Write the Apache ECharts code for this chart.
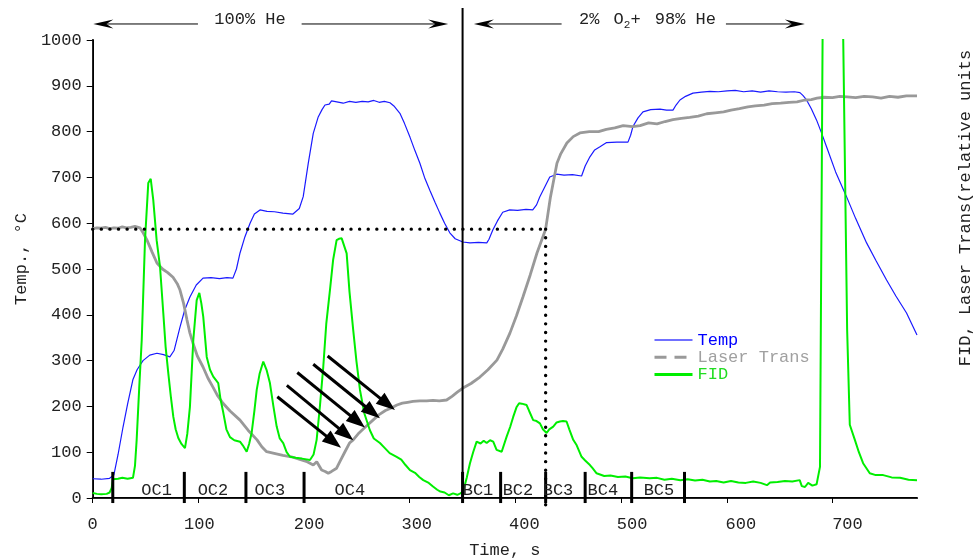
<!DOCTYPE html>
<html><head><meta charset="utf-8">
<script src="https://cdn.jsdelivr.net/npm/echarts/dist/echarts.min.js"></script>
<style>html,body{margin:0;padding:0;background:#fff}#c{width:973px;height:560px}</style>
</head><body><div id="c"></div>
<script>
// ---------- data (time in s, values in axis units) ----------
const xTickValues = [0,100,200,300,400,500,600,700];
const xLabelShift = [0,1,5,7,9,11,14,15];
const tempData = [[0,42],[8,41],[16,43],[20,50],[24,95],[28.7,155],[33,205],[38,258],[42,280],[47.6,300],[54,312],[60.8,316],[67,313],[73,308],[77,322],[82.6,373],[87,410],[92,439],[98,465],[104.4,480],[112,481],[120,479],[127,481],[132.7,480],[136,500],[139.4,535],[144,570],[148.9,600],[153,620],[158.3,629],[165,626],[172,625],[180,622],[189.5,620],[195.5,632],[199.2,658],[204,731],[208.7,796],[213.4,832],[217,848],[219.8,858],[223.8,860],[226,867],[231,865],[237,862],[243,866],[249,864],[255,866],[260.7,865],[266,868],[271,864],[276,866],[281.3,863],[285,856],[290.7,840],[295,818],[300.2,788],[305,758],[309.6,731],[314,700],[319,672],[324,645],[328.5,622],[333,600],[337.9,579],[343,566],[350.2,559],[357,557],[365,558],[372.9,557],[375,565],[378.6,585],[383,605],[388,624],[394.6,629],[402,628],[410,630],[416.4,629],[420,640],[423,657],[428,680],[432.5,701],[439.1,707],[446,705],[454,706],[462.6,703],[466,725],[470.5,745],[475,760],[480,767],[486.3,776],[496,777],[506.5,777],[509,792],[511.2,811],[516,830],[520.7,843],[528,848],[536.8,849],[543,847],[549.1,847],[552,858],[555.7,869],[561,877],[568,884],[576,886],[584,888],[592,887],[600.3,889],[608,890],[616,887],[624,889],[632,886],[640,889],[648,887],[656,886],[664,887],[669.2,885],[672,879],[675.5,869],[680,850],[685,825],[690,795],[694.4,767],[703,712],[713.3,658],[722,610],[732.3,557],[741,519],[751.2,476],[760,441],[770.1,404],[780,356]];
const laserData = [[0,588],[4,590],[8,589],[12,591],[16,588],[20,590],[24,589],[28,592],[32,590],[36,591],[40,593],[44.7,590],[48,578],[51.4,563],[56,538],[60.8,513],[66,500],[71,492],[76,482],[80,468],[82.6,454],[86,425],[89.2,389],[92,360],[94.9,338],[99,310],[104.4,286],[109,262],[113.8,242],[118,224],[123.3,207],[130,190],[139.4,170],[147,148],[155.5,127],[160,112],[164.6,101],[170.7,98],[180,93],[188,90],[196,84],[202,80],[208.7,72],[212,79],[216.6,61],[220,58],[222.9,54],[226,58],[230.8,65],[234,80],[238.7,101],[243,120],[246.5,127],[252,142],[258,155],[265.2,170],[271,182],[277,191],[282,196],[287.9,203],[293,207],[298,209],[303,211],[309.6,212],[316,212],[322,213],[328,212],[334.9,214],[340,222],[345,231],[350.3,240],[358,250],[366.4,264],[374,280],[382.5,301],[388,325],[394.8,360],[401,398],[407.1,439],[414,487],[420.4,535],[428.6,587],[433,655],[439.3,731],[443,752],[448.7,775],[454.7,789],[461,797],[470,800],[478.7,800],[486,805],[494,808],[502,813],[510.9,811],[518,813],[526,819],[534,817],[541.7,822],[549,826],[557,829],[565,831],[573,834],[581,839],[589,841],[597,843],[604,847],[612,850],[620,854],[627,856],[635.3,858],[643,861],[651,862],[659,864],[666.5,865],[674,869],[680,870],[685.4,873],[692,875],[700,874],[707,877],[713.8,876],[722,874],[730,877],[738,876],[746,873],[754,877],[762,875],[770,878],[780,878]];
const fidData = [[0,11],[4,9],[8,8],[13.2,9],[16,12],[18,22],[19.2,41],[24,42],[28,44],[33,42],[38.1,44],[40,70],[41.6,127],[44,240],[46.4,345],[49.5,563],[52.6,688],[54.9,697],[57.3,651],[60.5,563],[63.7,505],[66.8,404],[69,330],[71.5,273],[74,220],[76.3,177],[78.5,150],[81,131],[84,118],[87.3,109],[89.5,140],[92,199],[95.2,345],[98.4,432],[100.9,448],[102.8,425],[104.6,396],[107.9,308],[111,280],[114.1,265],[118.8,251],[121,215],[123.6,186],[126.5,150],[129.9,133],[134,126],[139.4,123],[142,115],[145.7,101],[148,118],[150.4,142],[153,190],[155.2,236],[158,272],[161.4,298],[164.5,280],[167.7,251],[171,200],[174.1,156],[177,130],[180.3,120],[183.5,100],[186.7,90],[192,88],[198,86],[205.6,83],[209,95],[211.9,127],[215,200],[218.2,287],[221,380],[224.5,454],[227.5,520],[230.8,563],[233,566],[235.6,567],[240.3,534],[243,450],[246.5,367],[249.5,300],[252.9,236],[257,185],[262.3,148],[266,130],[271.8,120],[276,110],[281,98],[287.6,90],[292,84],[296,72],[300.2,61],[305,55],[309,46],[312.8,39],[318,33],[322,25],[326,18],[329,14],[333,12],[337,6],[341,10],[345,7],[348,10],[350.6,15],[354,45],[357,76],[360,100],[363.3,123],[367,119],[370,125],[372.8,120],[376,126],[379,123],[382.2,105],[387,101],[391.7,134],[395,155],[397.9,177],[401,198],[403.5,207],[406,206],[410.6,203],[413,190],[416.8,170],[420,168],[423.2,163],[426,150],[429.5,142],[432,150],[435.8,156],[439,165],[442.1,167],[445,168],[448.4,167],[451,150],[454.7,127],[458,115],[462.6,90],[466,82],[470.5,72],[473,65],[476.8,54],[484,48],[490,49],[497,46],[504,47],[511,43],[518,45],[527,43],[534,44],[541,40],[548,42],[556,39],[563,41],[570,38],[577,40],[584,36],[590,37],[597,34],[604,37],[611,34],[618,33],[625,36],[632,33],[638,28],[641,34],[648,35],[655,37],[662,36],[669,39],[671,26],[674,24],[677,33],[681,27],[685,30],[688.2,68],[690.7,1020],[709.9,1020],[710.2,1000],[713.9,367],[716.4,160],[721.2,127],[725,100],[729,76],[735.3,54],[741,50],[748,50],[756,45],[764,44],[772,40],[780,39]];

// annotations (data coordinates)
const segmentTimes = [19,86.7,145,200,350,386,428.6,466,510,560];
const segmentLabels = ['OC1','OC2','OC3','OC4','BC1','BC2','BC3','BC4','BC5'];
const segmentLabelTimes = [60.5,113.8,167.7,243.4,364.6,402.4,440.3,482.8,535.8];
const gasSwitchTime = 350;
const refLevel = 587;      // dotted horizontal
const refTime = 428.6;     // dotted vertical
const arrowTails = [[174.7,221],[183.7,246],[193.6,274],[208.7,292],[222.3,310]];
const arrowTips  = [[235,109.5],[246.6,126],[257.6,154],[271.8,174],[286,192]];
const gasBand1 = {from:[0.6,336.4], gap:[99.6,197.7], label:'100% He', labelT:148.9};
const gasBand2 = {from:[360.7,673.9], gap:[443.7,599.2], labelT:525};

const FONT = "'Courier New','Liberation Mono',monospace";
const chart = echarts.init(document.getElementById('c'), null, {renderer:'canvas'});

const richX = {};
xTickValues.forEach((v,i)=>{ richX['s'+i] = {padding:[0,0,0,2*xLabelShift[i]], fontFamily:FONT, fontSize:17, color:'#222'}; });
const noSym = {opacity:0};

chart.setOption({
  animation:false,
  backgroundColor:'#fff',
  textStyle:{fontFamily:FONT},
  grid:{left:92.7, right:56, top:40, bottom:62, containLabel:false, outerBoundsMode:'none'},
  legend:{
    orient:'vertical', left:648, top:326.5, itemWidth:38, itemHeight:8, itemGap:0.3,
    textStyle:{fontFamily:FONT, fontSize:17},
    data:[
      {name:'Temp', textStyle:{color:'#0000ff'}, itemStyle:noSym, lineStyle:{color:'#7070ff', width:2}},
      {name:'Laser Trans', textStyle:{color:'#a0a0a0'}, itemStyle:noSym, lineStyle:{color:'#999', width:3, type:[12,8]}},
      {name:'FID', textStyle:{color:'#22dd22'}, itemStyle:noSym, lineStyle:{color:'#00ee00', width:3}}
    ]
  },
  xAxis:[
    {type:'value', min:0, max:780, interval:100, position:'bottom',
     name:'Time, s', nameLocation:'middle', nameGap:44,
     nameTextStyle:{fontFamily:FONT, fontSize:17, color:'#222'},
     axisLine:{lineStyle:{color:'#000', width:2}},
     axisTick:{length:5, lineStyle:{color:'#000', width:1}},
     axisLabel:{margin:18, fontFamily:FONT, fontSize:17, color:'#222',
       formatter:(v)=>'{s'+(v/100)+'|'+v+'}', rich:richX, showMaxLabel:false},
     splitLine:{show:false}},
    {type:'value', min:0, max:780, position:'top',
     axisLine:{show:true, lineStyle:{color:'#222', width:1}},
     axisTick:{show:false}, axisLabel:{show:false}, splitLine:{show:false}}
  ],
  yAxis:[
    {type:'value', min:0, max:1000, interval:100, position:'left',
     name:'Temp., °C', nameLocation:'middle', nameGap:60,
     nameTextStyle:{fontFamily:FONT, fontSize:17, color:'#222', padding:[0,0,0,20]},
     axisLine:{show:true, lineStyle:{color:'#000', width:2}},
     axisTick:{show:true, length:6, lineStyle:{color:'#000', width:1}},
     axisLabel:{margin:11, fontFamily:FONT, fontSize:17, color:'#222', formatter:(v)=>String(v)},
     splitLine:{show:false}},
    {type:'value', min:0, max:1000, position:'right',
     axisLine:{show:true, lineStyle:{color:'#222', width:1}},
     axisTick:{show:false}, axisLabel:{show:false}, splitLine:{show:false}}
  ],
  series:[
    {name:'Temp', type:'line', data:tempData, showSymbol:false, symbol:'none', clip:true,
     lineStyle:{color:'#1a1aff', width:1.2}, itemStyle:{color:'#1a1aff'}},
    {name:'Laser Trans', type:'line', data:laserData, showSymbol:false, symbol:'none', clip:true,
     lineStyle:{color:'#999', width:2.8}, itemStyle:{color:'#999'}},
    {name:'FID', type:'line', data:fidData, showSymbol:false, symbol:'none', clip:true,
     lineStyle:{color:'#00ee00', width:2}, itemStyle:{color:'#00ee00'}}
  ]
});

// ---------- annotations placed through the axes ----------
function P(t,v){ return chart.convertToPixel({gridIndex:0},[t,v]); }
const g = [];
function seg(a,b,w,extra){ g.push({type:'line', silent:true, z:50, shape:{x1:a[0],y1:a[1],x2:b[0],y2:b[1]}, style:Object.assign({stroke:'#000', lineWidth:w}, extra||{})}); }
function head(tip, from, len, hw, notch){
  const dx=tip[0]-from[0], dy=tip[1]-from[1], L=Math.hypot(dx,dy), ux=dx/L, uy=dy/L, nx=-uy, ny=ux;
  const bx=tip[0]-ux*len, by=tip[1]-uy*len;
  const pts=[tip,[bx+nx*hw,by+ny*hw],[tip[0]-ux*len*(1-notch),tip[1]-uy*len*(1-notch)],[bx-nx*hw,by-ny*hw]];
  g.push({type:'polygon', silent:true, z:51, shape:{points:pts}, style:{fill:'#000'}});
}
function txt(p,text,style){ g.push({type:'text', silent:true, z:52, x:p[0], y:p[1], style:Object.assign({text:text, fontFamily:FONT, fontSize:17, fill:'#222', align:'center', verticalAlign:'middle'}, style||{})}); }

// gas switch line
seg(P(gasSwitchTime,0), P(gasSwitchTime,1070), 2);
// dotted reference lines
const dot = {lineDash:[0.01,8.6], lineCap:'round'};
seg(P(0,refLevel), P(refTime,refLevel), 3.4, dot);
seg(P(refTime,refLevel), P(refTime,-22), 3.4, dot);
// segment markers and labels
segmentTimes.forEach(t=>seg(P(t,57), P(t,-11), 3));
segmentLabels.forEach((s,i)=>txt(P(segmentLabelTimes[i],16), s));
// diagonal arrows
arrowTails.forEach((a,i)=>{
  const A=P(a[0],a[1]), B=P(arrowTips[i][0],arrowTips[i][1]);
  const dx=B[0]-A[0], dy=B[1]-A[1], L=Math.hypot(dx,dy);
  const C=[B[0]-dx/L*14, B[1]-dy/L*14];
  seg(A,C,3);
  head(B,A,19,7,0);
});
// top gas bands
const yBand=1035;
function band(b){
  const a0=P(b.from[0],yBand), a1=P(b.gap[0],yBand), a2=P(b.gap[1],yBand), a3=P(b.from[1],yBand);
  seg([a0[0]+10,a0[1]],a1,1); seg(a2,[a3[0]-10,a3[1]],1);
  head(a0,a1,20,4.5,0.35); head(a3,a2,20,4.5,0.35);
}
band(gasBand1); band(gasBand2);
txt(P(gasBand1.labelT,1044), gasBand1.label);
const richTop = {
  n:{fontFamily:FONT,fontSize:17,lineHeight:22,verticalAlign:'middle',fill:'#222'},
  w:{fontFamily:FONT,fontSize:17,lineHeight:22,verticalAlign:'middle',fill:'#222',padding:[0,2,0,2]},
  s:{fontFamily:FONT,fontSize:11,lineHeight:22,verticalAlign:'bottom',fill:'#222',padding:[10,0,0,0]}
};
txt(P(gasBand2.labelT,1044), '{n|2%}{w| }{n|O}{s|2}{n|+}{w| }{n|98% He}', {rich:richTop});
// right axis title
g.push({type:'text', silent:true, x:965, y:208, rotation:Math.PI/2, style:{text:'FID, Laser Trans(relative units', fontFamily:FONT, fontSize:17, fill:'#222', align:'center', verticalAlign:'middle'}});

chart.setOption({graphic:{elements:g}});
</script></body></html>
